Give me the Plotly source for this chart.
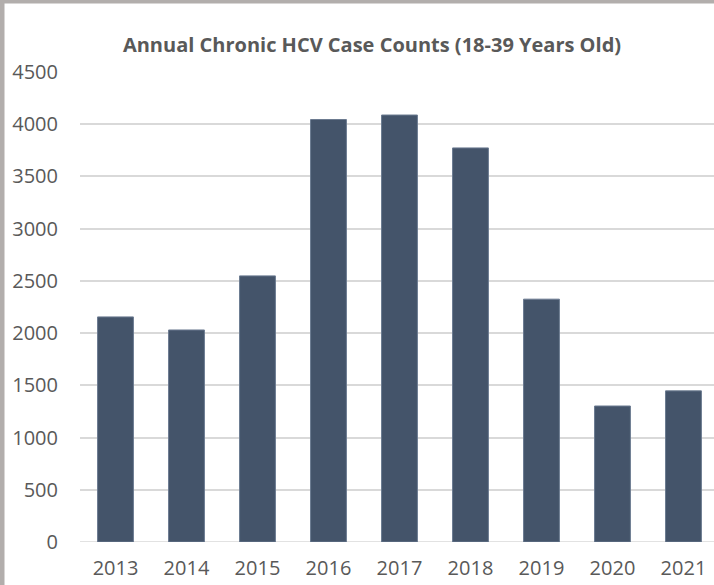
import plotly.graph_objects as go

years = ["2013", "2014", "2015", "2016", "2017", "2018", "2019", "2020", "2021"]
cases = [2155, 2030, 2548, 4045, 4088, 3773, 2325, 1302, 1447]
y_ticks = [0, 500, 1000, 1500, 2000, 2500, 3000, 3500, 4000, 4500]
title_text = "Annual Chronic HCV Case Counts (18-39 Years Old)"

W, H = 714, 585
L, R, T, B = 80, 0, 72, 43
pw, ph = W - L - R, H - T - B

fig = go.Figure(go.Bar(
    x=years, y=cases,
    marker=dict(color="#44546a", line=dict(color="#6b7a90", width=1)),
    width=0.505,
))

def px_x(px):
    return (px - L) / pw

def px_y(py):
    return (H - B - py) / ph

fig.update_layout(
    width=W, height=H,
    margin=dict(l=L, r=R, t=T, b=B),
    paper_bgcolor="white", plot_bgcolor="white",
    showlegend=False,
    font=dict(family="Open Sans, Lato, sans-serif", color="#595959"),
    title=dict(text="<b>" + title_text + "</b>", x=372 / W, xref="container", xanchor="center",
               y=1 - 45 / H, yref="container", yanchor="middle",
               font=dict(size=20, color="#595959", family="Open Sans, sans-serif")),
    xaxis=dict(type="category", range=[-0.5, 8.43], showgrid=False, showline=False,
               ticks="", tickfont=dict(size=20, color="#595959"), ticklabelstandoff=12),
    yaxis=dict(range=[0, 4500], tickvals=y_ticks, showgrid=True, gridcolor="#d9d9d9",
               gridwidth=1.5, zeroline=False, showline=False, ticks="",
               tickfont=dict(size=20, color="#595959"), ticklabelstandoff=21),
    shapes=[
        dict(type="rect", xref="paper", yref="paper", x0=px_x(0), x1=px_x(4.5),
             y0=px_y(H), y1=px_y(0), fillcolor="#b2aeac", line=dict(width=0), layer="above"),
        dict(type="rect", xref="paper", yref="paper", x0=px_x(0), x1=px_x(W),
             y0=px_y(3.5), y1=px_y(0), fillcolor="#b2aeac", line=dict(width=0), layer="above"),
        dict(type="line", xref="paper", yref="y", x0=0, x1=1, y0=0, y1=0,
             line=dict(color="#d9d9d9", width=1.5), layer="below"),
    ],
)

fig.write_html("out.html", config={"displayModeBar": False},
               post_script="document.body.style.margin='0';document.body.style.overflow='hidden';"
                           "document.documentElement.style.overflow='hidden';")
